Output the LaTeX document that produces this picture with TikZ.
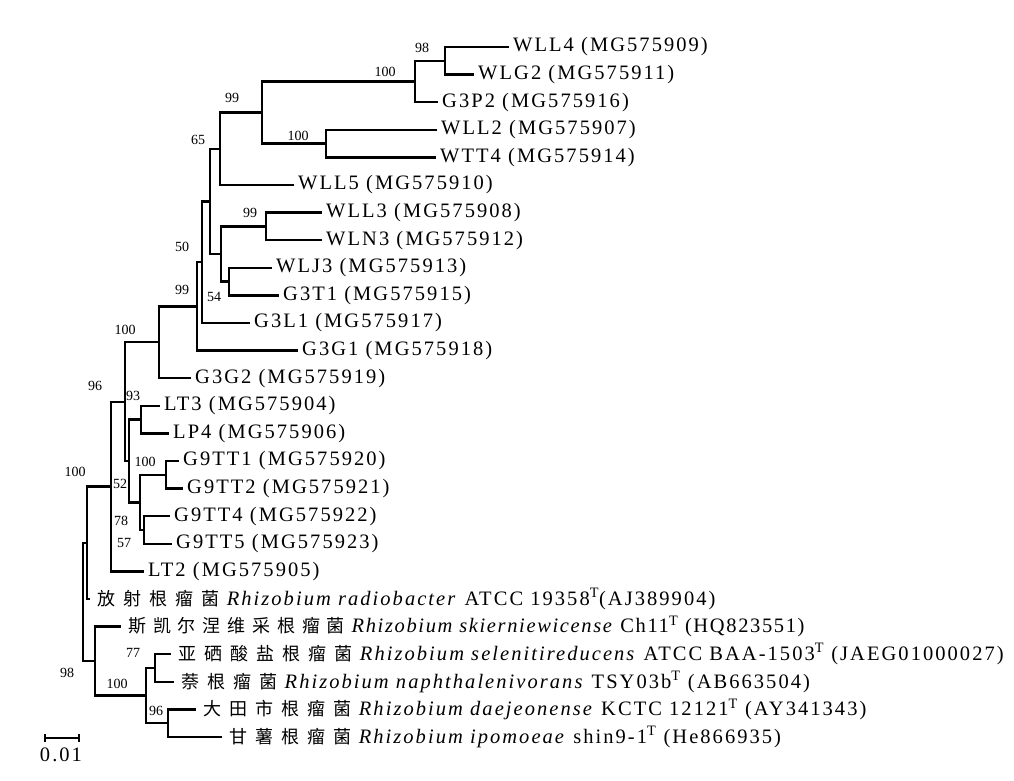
\documentclass[tikz,border=0pt]{standalone}
\usepackage{fontspec}
\setmainfont{Liberation Serif}
\newfontfamily\leaffont{Liberation Serif}[LetterSpace=10]
\newfontfamily\leaftight{Liberation Serif}[LetterSpace=8]
\newfontfamily\cjkfont{Noto Sans CJK SC}[LetterSpace=45]
\newfontfamily\cjktight{Noto Sans CJK SC}[LetterSpace=38]
\newcommand{\cjk}[1]{{\cjkfont\fontsize{18}{20}\selectfont #1}}
\newcommand{\cjkt}[1]{{\cjktight\fontsize{18}{20}\selectfont #1}}

\begin{document}
\begin{tikzpicture}[x=1pt,y=-1pt,
	branch/.style={line width=2.3pt},
	leaf/.style={anchor=west, inner xsep=4pt, inner ysep=0pt, font=\leaffont\fontsize{20.5}{22}\selectfont},
	cjkleaf/.style={leaf, inner xsep=7pt},
	boot/.style={inner sep=0pt, font=\fontsize{14}{15}\selectfont}]
	\useasboundingbox (0,0) rectangle (1014,780);
	% leaf tips
	\coordinate (tWLL4) at (509,47);
	\coordinate (tWLG2) at (474,74.6);
	\coordinate (tG3P2) at (438,102.2);
	\coordinate (tWLL2) at (437,129.8);
	\coordinate (tWTT4) at (436,157.4);
	\coordinate (tWLL5) at (294,185);
	\coordinate (tWLL3) at (322,212.6);
	\coordinate (tWLN3) at (322,240.2);
	\coordinate (tWLJ3) at (272,267.8);
	\coordinate (tG3T1) at (279,295.4);
	\coordinate (tG3L1) at (250,323);
	\coordinate (tG3G1) at (298,350.6);
	\coordinate (tG3G2) at (191,378.2);
	\coordinate (tLT3) at (160,405.8);
	\coordinate (tLP4) at (169,433.4);
	\coordinate (tG9TT1) at (179,461);
	\coordinate (tG9TT2) at (183,488.6);
	\coordinate (tG9TT4) at (170,516.2);
	\coordinate (tG9TT5) at (172,543.8);
	\coordinate (tLT2) at (144,571.4);
	\coordinate (tRad) at (90,599);
	\coordinate (tSki) at (121,626.6);
	\coordinate (tSel) at (171,654.2);
	\coordinate (tNap) at (174,681.8);
	\coordinate (tDae) at (196,709.4);
	\coordinate (tIpo) at (222,737);
	% inner nodes
	\coordinate (n98) at (445,60.8);
	\coordinate (n100a) at (415,81.5);
	\coordinate (n100b) at (326,143.6);
	\coordinate (n99a) at (262,112.55);
	\coordinate (n65) at (220,148.8);
	\coordinate (n99b) at (266,226.4);
	\coordinate (n54) at (229,281.6);
	\coordinate (nA) at (221,254);
	\coordinate (nB) at (210,201.4);
	\coordinate (n50) at (202,262.2);
	\coordinate (n99c) at (197,306.4);
	\coordinate (n100c) at (159,342.3);
	\coordinate (n93) at (141,419.6);
	\coordinate (n100d) at (166,474.8);
	\coordinate (n57) at (144,530);
	\coordinate (n78) at (140,502.4);
	\coordinate (n52) at (129,461);
	\coordinate (n96) at (125,401.7);
	\coordinate (n100e) at (111,486.5);
	\coordinate (n100f) at (87,542.8);
	\coordinate (n77) at (155,668);
	\coordinate (n96b) at (168,723.2);
	\coordinate (n100g) at (146,695.6);
	\coordinate (n98b) at (95,661.1);
	\coordinate (root) at (83,601.95);

	\draw [branch] (n98) |- (tWLL4) (n98) |- (tWLG2)
		(n100a) |- (n98) (n100a) |- (tG3P2)
		(n100b) |- (tWLL2) (n100b) |- (tWTT4)
		(n99a) |- (n100a) (n99a) |- (n100b)
		(n65) |- (n99a) (n65) |- (tWLL5)
		(n99b) |- (tWLL3) (n99b) |- (tWLN3)
		(n54) |- (tWLJ3) (n54) |- (tG3T1)
		(nA) |- (n99b) (nA) |- (n54)
		(nB) |- (n65) (nB) |- (nA)
		(n50) |- (nB) (n50) |- (tG3L1)
		(n99c) |- (n50) (n99c) |- (tG3G1)
		(n100c) |- (n99c) (n100c) |- (tG3G2)
		(n93) |- (tLT3) (n93) |- (tLP4)
		(n100d) |- (tG9TT1) (n100d) |- (tG9TT2)
		(n57) |- (tG9TT4) (n57) |- (tG9TT5)
		(n78) |- (n100d) (n78) |- (n57)
		(n52) |- (n93) (n52) |- (n78)
		(n96) |- (n100c) (n96) |- (n52)
		(n100e) |- (n96) (n100e) |- (tLT2)
		(n100f) |- (n100e) (n100f) |- (tRad)
		(n77) |- (tSel) (n77) |- (tNap)
		(n96b) |- (tDae) (n96b) |- (tIpo)
		(n100g) |- (n77) (n100g) |- (n96b)
		(n98b) |- (tSki) (n98b) |- (n100g)
		(root) |- (n100f) (root) |- (n98b);

	\node [leaf] (lWLL4) at (tWLL4) {WLL4 (MG575909)};
	\node [leaf] (lWLG2) at (tWLG2) {WLG2 (MG575911)};
	\node [leaf] (lG3P2) at (tG3P2) {G3P2 (MG575916)};
	\node [leaf] (lWLL2) at (tWLL2) {WLL2 (MG575907)};
	\node [leaf] (lWTT4) at (tWTT4) {WTT4 (MG575914)};
	\node [leaf] (lWLL5) at (tWLL5) {WLL5 (MG575910)};
	\node [leaf] (lWLL3) at (tWLL3) {WLL3 (MG575908)};
	\node [leaf] (lWLN3) at (tWLN3) {WLN3 (MG575912)};
	\node [leaf] (lWLJ3) at (tWLJ3) {WLJ3 (MG575913)};
	\node [leaf] (lG3T1) at (tG3T1) {G3T1 (MG575915)};
	\node [leaf] (lG3L1) at (tG3L1) {G3L1 (MG575917)};
	\node [leaf] (lG3G1) at (tG3G1) {G3G1 (MG575918)};
	\node [leaf] (lG3G2) at (tG3G2) {G3G2 (MG575919)};
	\node [leaf] (lLT3) at (tLT3) {LT3 (MG575904)};
	\node [leaf] (lLP4) at (tLP4) {LP4 (MG575906)};
	\node [leaf] (lG9TT1) at (tG9TT1) {G9TT1 (MG575920)};
	\node [leaf] (lG9TT2) at (tG9TT2) {G9TT2 (MG575921)};
	\node [leaf] (lG9TT4) at (tG9TT4) {G9TT4 (MG575922)};
	\node [leaf] (lG9TT5) at (tG9TT5) {G9TT5 (MG575923)};
	\node [leaf] (lLT2) at (tLT2) {LT2 (MG575905)};
	\node [cjkleaf] (lRad) at (tRad) {\cjk{放射根瘤菌} \textit{Rhizobium radiobacter} ATCC 19358\textsuperscript{T}(AJ389904)};
	\node [cjkleaf, font=\leaftight\fontsize{20.5}{22}\selectfont] (lSki) at (tSki) {\cjkt{斯凯尔涅维采根瘤菌} \textit{Rhizobium skierniewicense} Ch11\textsuperscript{T} (HQ823551)};
	\node [cjkleaf] (lSel) at (tSel) {\cjk{亚硒酸盐根瘤菌} \textit{Rhizobium selenitireducens} ATCC BAA-1503\textsuperscript{T} (JAEG01000027)};
	\node [cjkleaf] (lNap) at (tNap) {\cjk{萘根瘤菌} \textit{Rhizobium naphthalenivorans} TSY03b\textsuperscript{T} (AB663504)};
	\node [cjkleaf] (lDae) at (tDae) {\cjk{大田市根瘤菌} \textit{Rhizobium daejeonense} KCTC 12121\textsuperscript{T} (AY341343)};
	\node [cjkleaf] (lIpo) at (tIpo) {\cjk{甘薯根瘤菌} \textit{Rhizobium ipomoeae} shin9-1\textsuperscript{T} (He866935)};

	% bootstrap values
	\node [boot] (b98a) at (422,48) {98};
	\node [boot] (b100a) at (385,72) {100};
	\node [boot] (b99a) at (232,98) {99};
	\node [boot] (b100b) at (298,136) {100};
	\node [boot] (b65) at (198,140) {65};
	\node [boot] (b99b) at (250,213) {99};
	\node [boot] (b50) at (182,247) {50};
	\node [boot] (b99c) at (182,290) {99};
	\node [boot] (b54) at (214,297) {54};
	\node [boot] (b100c) at (125,330) {100};
	\node [boot] (b96a) at (95,386) {96};
	\node [boot] (b93) at (133,396) {93};
	\node [boot] (b100d) at (145,462) {100};
	\node [boot] (b52) at (120,484) {52};
	\node [boot] (b78) at (121,521) {78};
	\node [boot] (b57) at (124,543) {57};
	\node [boot] (b100e) at (75,472) {100};
	\node [boot] (b98b) at (67,673) {98};
	\node [boot] (b100g) at (117,684) {100};
	\node [boot] (b77) at (133,653) {77};
	\node [boot] (b96b) at (156,711) {96};

	% scale bar
	\coordinate (s0) at (45,738);
	\coordinate (s1) at (79,738);
	\draw [branch] (s0) -- (s1);
	\draw [line width=1.5pt] ([yshift=4pt]s0) -- ([yshift=-4pt]s0) ([yshift=4pt]s1) -- ([yshift=-4pt]s1);
	\node [leaf, anchor=center, inner sep=0pt] (scale) at (61,755) {0.01};
\end{tikzpicture}
\end{document}
